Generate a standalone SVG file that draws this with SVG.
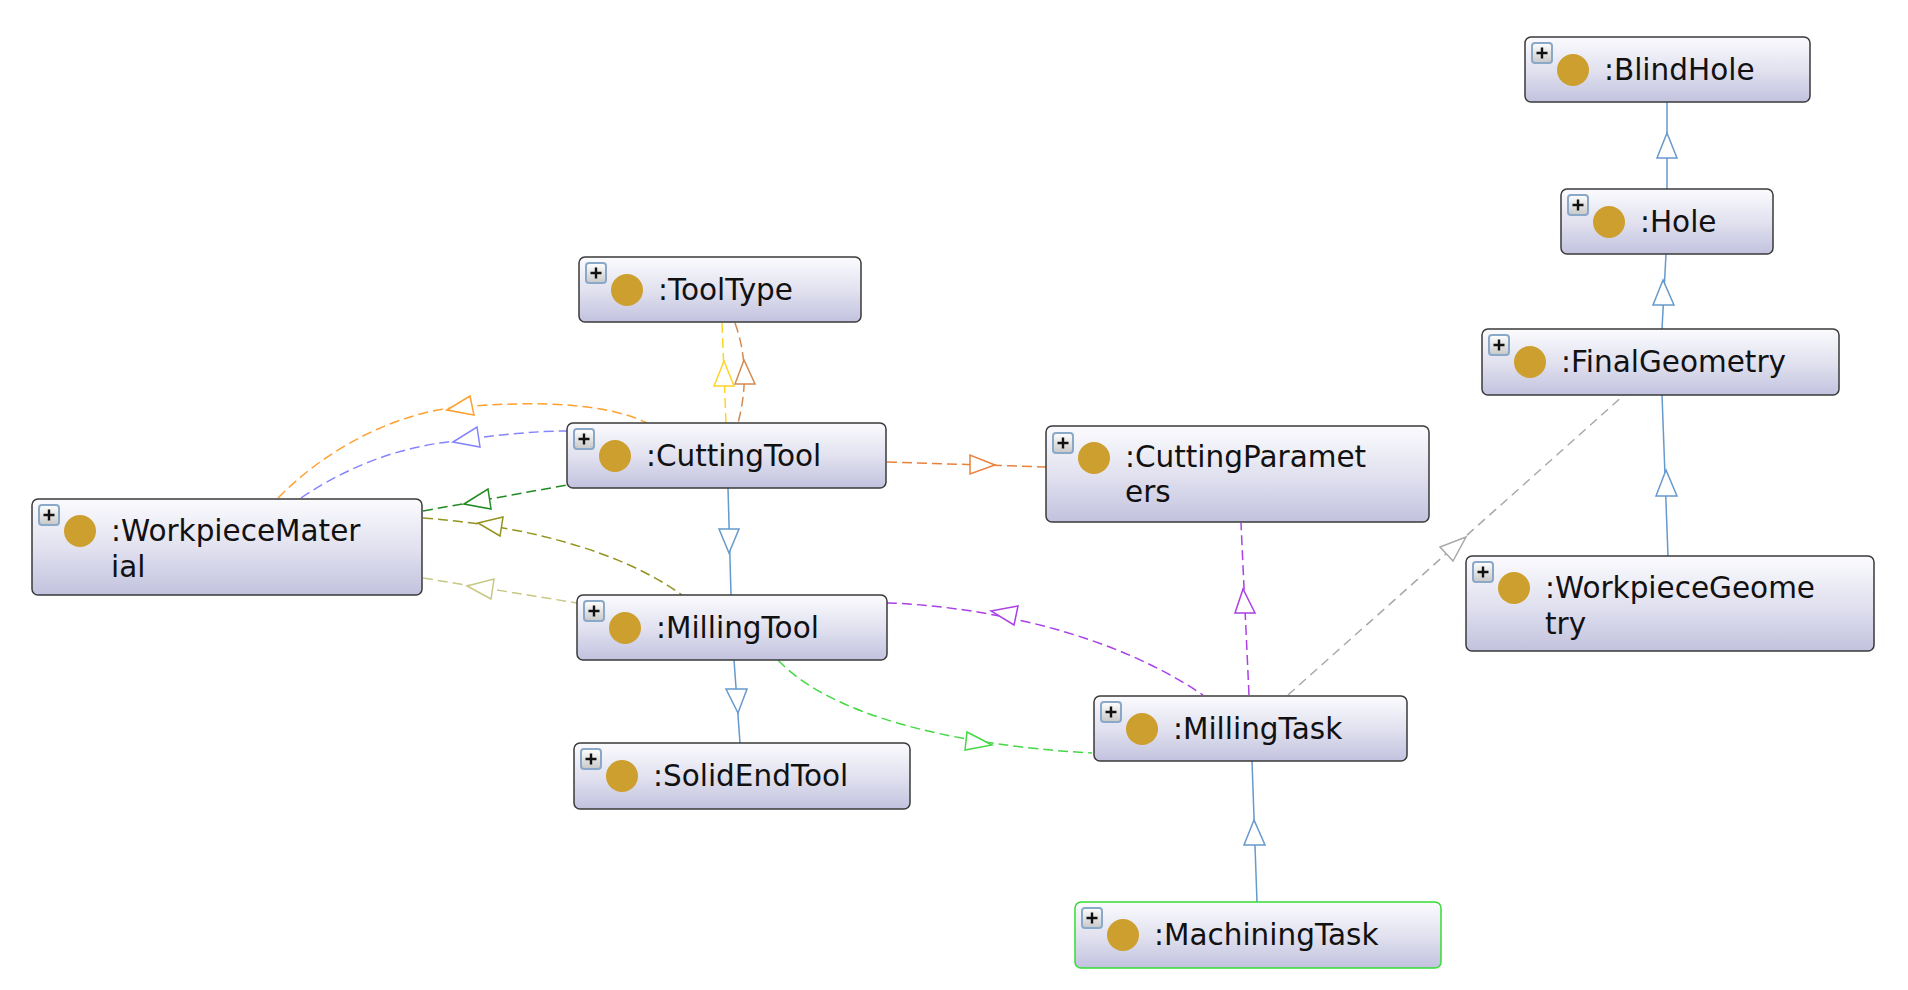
<svg xmlns="http://www.w3.org/2000/svg" width="1908" height="990" viewBox="0 0 1908 990">
<defs>
<linearGradient id="nodeGrad" x1="0" y1="0" x2="0" y2="1">
<stop offset="0" stop-color="#fbfbfe"/>
<stop offset="0.5" stop-color="#e2e2f0"/>
<stop offset="1" stop-color="#c2c2df"/>
</linearGradient>
<linearGradient id="plusGrad" x1="0" y1="0" x2="0" y2="1">
<stop offset="0" stop-color="#ffffff"/>
<stop offset="1" stop-color="#c8c8c8"/>
</linearGradient>
<g id="plus">
<rect x="0" y="0" width="20" height="20" rx="3" fill="url(#plusGrad)" stroke="#8aa8c8" stroke-width="2"/>
<path d="M4.5,10 H15.5 M10,4.5 V15.5" stroke="#111" stroke-width="2.4" fill="none"/>
</g>
</defs>
<style>
.box{fill:url(#nodeGrad);stroke:#3a3a3a;stroke-width:1.5}
.dot{fill:#cd9f2f}
.lbl{font-family:"DejaVu Sans","Liberation Sans",sans-serif;font-size:29.5px;fill:#111}
.e{fill:none;stroke-width:1.5}
.d{stroke-dasharray:10,5}
.a{fill:#fff;stroke-width:1.5}
.sub{stroke:#6699cc}
</style>
<rect width="1908" height="990" fill="#ffffff"/>

<g id="connectors">
<!-- subclass blue -->
<path class="e sub" d="M1667,253 L1667,102"/>
<polygon class="a sub" points="1667,133 1657,158 1677,158"/>
<path class="e sub" d="M1662,329 L1666,254"/>
<polygon class="a sub" points="1663,280 1653,305 1674,305"/>
<path class="e sub" d="M1668,556 L1662,395"/>
<polygon class="a sub" points="1666,470 1656,496 1677,496"/>
<path class="e sub" d="M1257,902 L1252,761"/>
<polygon class="a sub" points="1254,820 1244,845 1265,845"/>
<path class="e sub" d="M728,488 L731,595"/>
<polygon class="a sub" points="729,553 719,529 739,529"/>
<path class="e sub" d="M734,660 L740,743"/>
<polygon class="a sub" points="738,713 726,689 747,689"/>

<!-- ToolType -->
<path class="e d" stroke="#ffd428" d="M722,323 L726,423"/>
<polygon class="a" stroke="#ffd428" points="724,361 714,386 734,386"/>
<path class="e d" stroke="#d48a52" d="M735,323 Q752,370 738,423"/>
<polygon class="a" stroke="#d48a52" points="744,360 735,384 755,384"/>

<!-- WorkpieceMaterial edges -->
<path class="e d" stroke="#ffa030" d="M278,498 C330,445 400,412 460,407 C520,402 600,400 647,423"/>
<polygon class="a" stroke="#ffa030" points="447,410 470,396 474,415"/>
<path class="e d" stroke="#8585ff" d="M301,498 C350,465 400,447 455,441 C500,434 540,431 567,431"/>
<polygon class="a" stroke="#8585ff" points="453,442 477,427 480,447"/>
<path class="e d" stroke="#238a23" d="M423,511 L567,485"/>
<polygon class="a" stroke="#238a23" points="464,504 488,489 491,509"/>
<path class="e d" stroke="#939320" d="M423,518 C520,525 620,550 682,595"/>
<polygon class="a" stroke="#939320" points="478,523 503,517 500,536"/>
<path class="e d" stroke="#c8c884" d="M423,578 L577,603"/>
<polygon class="a" stroke="#c8c884" points="467,586 494,579 491,599"/>

<!-- CuttingTool -> CuttingParameters -->
<path class="e d" stroke="#e8823c" d="M887,462 L1046,467"/>
<polygon class="a" stroke="#e8823c" points="995,465 970,455 970,474"/>

<!-- MillingTask edges -->
<path class="e d" stroke="#aa40e6" d="M887,603 C960,605 1100,625 1203,695"/>
<polygon class="a" stroke="#aa40e6" points="991,611 1018,606 1014,625"/>
<path class="e d" stroke="#44d844" d="M778,660 C830,715 950,745 1092,753"/>
<polygon class="a" stroke="#44d844" points="992,745 967,732 965,750"/>
<path class="e" stroke="#a8a8a8" stroke-dasharray="9,6" d="M1288,695 L1624,395"/>
<polygon class="a" stroke="#a8a8a8" points="1466,537 1440,547 1453,561"/>
<path class="e d" stroke="#aa40e6" d="M1249,695 L1241,523"/>
<polygon class="a" stroke="#aa40e6" points="1243,589 1235,613 1255,613"/>
</g>

<g id="BlindHole">
<rect class="box" x="1525" y="37" width="285" height="65" rx="6"/>
<use href="#plus" x="1532" y="43"/>
<circle class="dot" cx="1573" cy="70" r="16"/>
<text class="lbl" x="1604" y="80">:BlindHole</text>
</g>
<g id="Hole">
<rect class="box" x="1561" y="189" width="212" height="65" rx="6"/>
<use href="#plus" x="1568" y="195"/>
<circle class="dot" cx="1609" cy="222" r="16"/>
<text class="lbl" x="1640" y="232">:Hole</text>
</g>
<g id="FinalGeometry">
<rect class="box" x="1482" y="329" width="357" height="66" rx="6"/>
<use href="#plus" x="1489" y="335"/>
<circle class="dot" cx="1530" cy="362" r="16"/>
<text class="lbl" x="1561" y="372">:FinalGeometry</text>
</g>
<g id="WorkpieceGeometry">
<rect class="box" x="1466" y="556" width="408" height="95" rx="6"/>
<use href="#plus" x="1473" y="562"/>
<circle class="dot" cx="1514" cy="588" r="16"/>
<text class="lbl" x="1545" y="598">:WorkpieceGeome</text>
<text class="lbl" x="1545" y="634">try</text>
</g>
<g id="ToolType">
<rect class="box" x="579" y="257" width="282" height="65" rx="6"/>
<use href="#plus" x="586" y="263"/>
<circle class="dot" cx="627" cy="290" r="16"/>
<text class="lbl" x="658" y="300">:ToolType</text>
</g>
<g id="CuttingTool">
<rect class="box" x="567" y="423" width="319" height="65" rx="6"/>
<use href="#plus" x="574" y="429"/>
<circle class="dot" cx="615" cy="456" r="16"/>
<text class="lbl" x="646" y="466">:CuttingTool</text>
</g>
<g id="CuttingParameters">
<rect class="box" x="1046" y="426" width="383" height="96" rx="6"/>
<use href="#plus" x="1053" y="433"/>
<circle class="dot" cx="1094" cy="458" r="16"/>
<text class="lbl" x="1125" y="467">:CuttingParamet</text>
<text class="lbl" x="1125" y="502">ers</text>
</g>
<g id="WorkpieceMaterial">
<rect class="box" x="32" y="499" width="390" height="96" rx="6"/>
<use href="#plus" x="39" y="505"/>
<circle class="dot" cx="80" cy="531" r="16"/>
<text class="lbl" x="111" y="541">:WorkpieceMater</text>
<text class="lbl" x="111" y="577">ial</text>
</g>
<g id="MillingTool">
<rect class="box" x="577" y="595" width="310" height="65" rx="6"/>
<use href="#plus" x="584" y="601"/>
<circle class="dot" cx="625" cy="628" r="16"/>
<text class="lbl" x="656" y="638">:MillingTool</text>
</g>
<g id="SolidEndTool">
<rect class="box" x="574" y="743" width="336" height="66" rx="6"/>
<use href="#plus" x="581" y="749"/>
<circle class="dot" cx="622" cy="776" r="16"/>
<text class="lbl" x="653" y="786">:SolidEndTool</text>
</g>
<g id="MillingTask">
<rect class="box" x="1094" y="696" width="313" height="65" rx="6"/>
<use href="#plus" x="1101" y="702"/>
<circle class="dot" cx="1142" cy="729" r="16"/>
<text class="lbl" x="1173" y="739">:MillingTask</text>
</g>
<g id="MachiningTask">
<rect class="box" x="1075" y="902" width="366" height="66" rx="6" style="stroke:#33dd33"/>
<use href="#plus" x="1082" y="908"/>
<circle class="dot" cx="1123" cy="935" r="16"/>
<text class="lbl" x="1154" y="945">:MachiningTask</text>
</g>
</svg>
